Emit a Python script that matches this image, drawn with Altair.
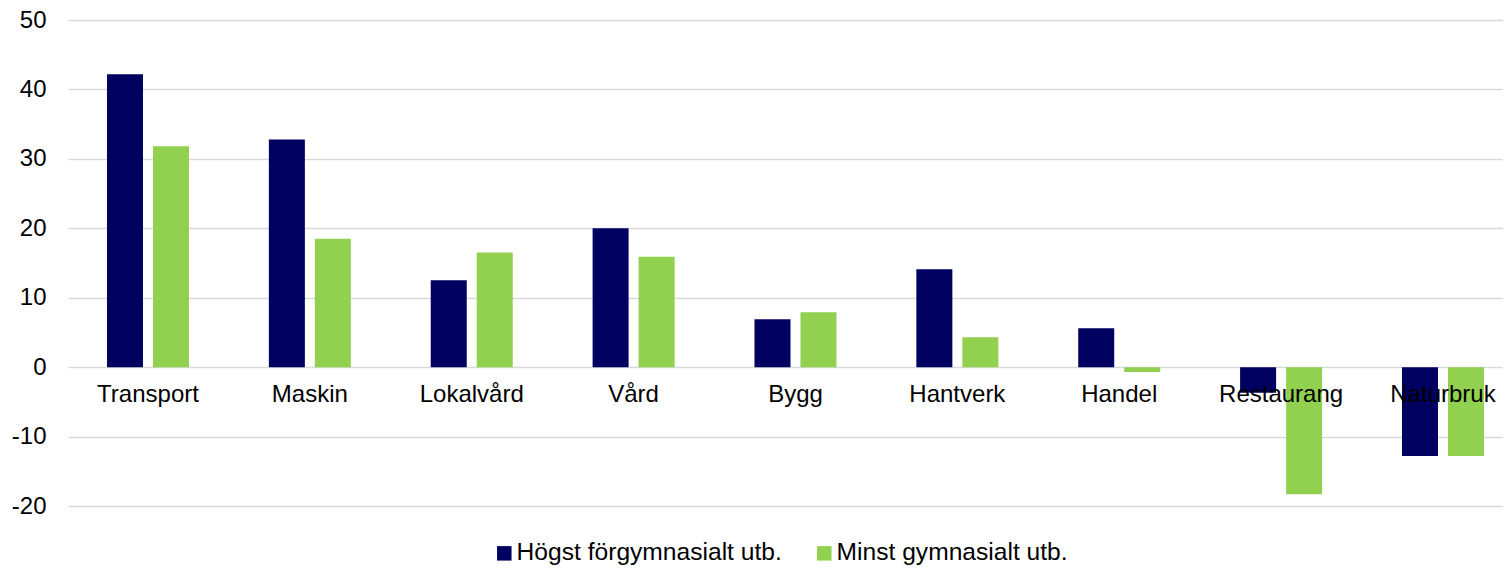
import altair as alt
import pandas as pd

categories = ["Transport", "Maskin", "Lokalvård", "Vård", "Bygg", "Hantverk", "Handel", "Restaurang", "Naturbruk"]
series_names = ["Högst förgymnasialt utb.", "Minst gymnasialt utb."]
hogst = [42.2, 32.8, 12.5, 20.0, 6.9, 14.1, 5.6, -3.7, -12.8]
minst = [31.8, 18.5, 16.5, 15.9, 7.9, 4.3, -0.7, -18.3, -12.8]
y_ticks = [-20, -10, 0, 10, 20, 30, 40, 50]
colors = ["#000060", "#92D050"]

rows = []
for i, c in enumerate(categories):
    rows.append({"kategori": c, "serie": series_names[0], "värde": hogst[i]})
    rows.append({"kategori": c, "serie": series_names[1], "värde": minst[i]})
df = pd.DataFrame(rows)
lab = pd.DataFrame({"kategori": categories, "noll": [0] * len(categories)})

FONT = "Liberation Sans"
FS = 24

xscale = alt.Scale(domain=categories, paddingInner=0.4934, paddingOuter=0.1792,
                   align=0.672, round=False)
yscale = alt.Scale(domain=[-20, 50], nice=False, zero=False)

bars = alt.Chart(df).mark_bar().encode(
    x=alt.X("kategori:N", scale=xscale, axis=None, sort=categories),
    xOffset=alt.XOffset("serie:N", sort=series_names,
                        scale=alt.Scale(paddingInner=0.217, paddingOuter=0, round=False)),
    y=alt.Y("värde:Q", scale=yscale,
            axis=alt.Axis(values=y_ticks, title=None, domain=False, ticks=False,
                          labelFontSize=FS, labelFont=FONT, labelColor="#000000",
                          labelExpr="replace(datum.label, '\u2212', '-')",
                          labelPadding=22, gridColor="#d9d9d9", gridWidth=1.5)),
    color=alt.Color("serie:N", sort=series_names,
                    scale=alt.Scale(domain=series_names, range=colors),
                    legend=alt.Legend(title=None, orient="none", direction="horizontal",
                                      legendX=424, legendY=521,
                                      symbolType="square", symbolSize=210,
                                      symbolStrokeWidth=0, symbolOpacity=1,
                                      labelFontSize=24.6, labelFont=FONT,
                                      labelColor="#000000", labelLimit=400,
                                      labelOffset=0, columnPadding=30)),
)

labels = alt.Chart(lab).mark_text(fontSize=FS, font=FONT, color="#000000",
                                  baseline="middle", dy=28).encode(
    x=alt.X("kategori:N", scale=xscale, sort=categories, axis=None),
    y=alt.Y("noll:Q", scale=yscale),
    text="kategori:N",
)

chart = alt.layer(bars, labels).properties(
    width=1435, height=486,
    padding={"left": 60, "top": 12, "right": 0, "bottom": 62},
    autosize=alt.AutoSizeParams(type="none"),
).configure_view(stroke=None)

chart.save("out.html", embed_options={"renderer": "svg", "actions": False})
